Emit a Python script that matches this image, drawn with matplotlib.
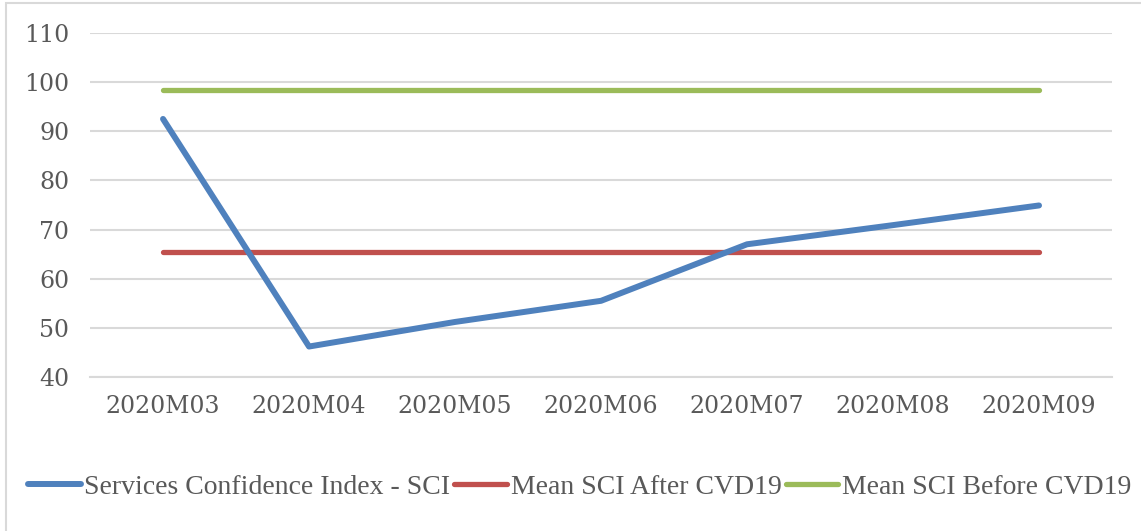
import matplotlib.pyplot as plt
from matplotlib.patches import Rectangle

# data
months = ['2020M03', '2020M04', '2020M05', '2020M06', '2020M07', '2020M08', '2020M09']
sci = [92.5, 46.2, 51.2, 55.5, 67.0, 70.9, 74.9]
mean_after = [65.4] * len(months)
mean_before = [98.3] * len(months)
y_ticks = [40, 50, 60, 70, 80, 90, 100, 110]

fig = plt.figure(figsize=(11.41, 5.31), dpi=100)
ax = fig.add_axes([0.0789, 0.29, 0.8957, 0.648])

x = range(len(months))
ax.plot(x, sci, color='#4F81BD', lw=4.3, solid_capstyle='round', solid_joinstyle='round',
        label='Services Confidence Index - SCI', zorder=3)
ax.plot(x, mean_after, color='#C0504D', lw=3.8, solid_capstyle='round',
        label='Mean SCI After CVD19', zorder=2)
ax.plot(x, mean_before, color='#9BBB59', lw=3.8, solid_capstyle='round',
        label='Mean SCI Before CVD19', zorder=2)

ax.set_xlim(-0.5, len(months) - 0.5)
ax.set_ylim(40, 110)
ax.set_yticks(y_ticks)
ax.set_xticks(list(x))
ax.set_xticklabels(months)
ax.grid(axis='y', color='#D9D9D9', lw=1.5)
ax.set_axisbelow(True)
for s in ['top', 'right', 'left']:
    ax.spines[s].set_visible(False)
ax.spines['bottom'].set_color('#D9D9D9')
ax.spines['bottom'].set_linewidth(1.5)
ax.tick_params(length=0, labelcolor='#595959', labelsize=17)
ax.tick_params(axis='y', pad=15)
ax.tick_params(axis='x', pad=13)
for lbl in ax.get_xticklabels() + ax.get_yticklabels():
    lbl.set_family('DejaVu Serif')

leg = fig.legend(loc='center', bbox_to_anchor=(0.508, 0.083), ncol=3, frameon=False,
                 handlelength=1.9, handletextpad=0.12, columnspacing=0.15,
                 prop={'family': 'Liberation Serif', 'size': 20})
for t in leg.get_texts():
    t.set_color('#595959')

# chart border
fig.patches.append(Rectangle((0.0053, -0.02), 1.1, 1.0143, transform=fig.transFigure,
                             fill=False, edgecolor='#D9D9D9', lw=1.5))

fig.savefig('out.png', dpi=100)
